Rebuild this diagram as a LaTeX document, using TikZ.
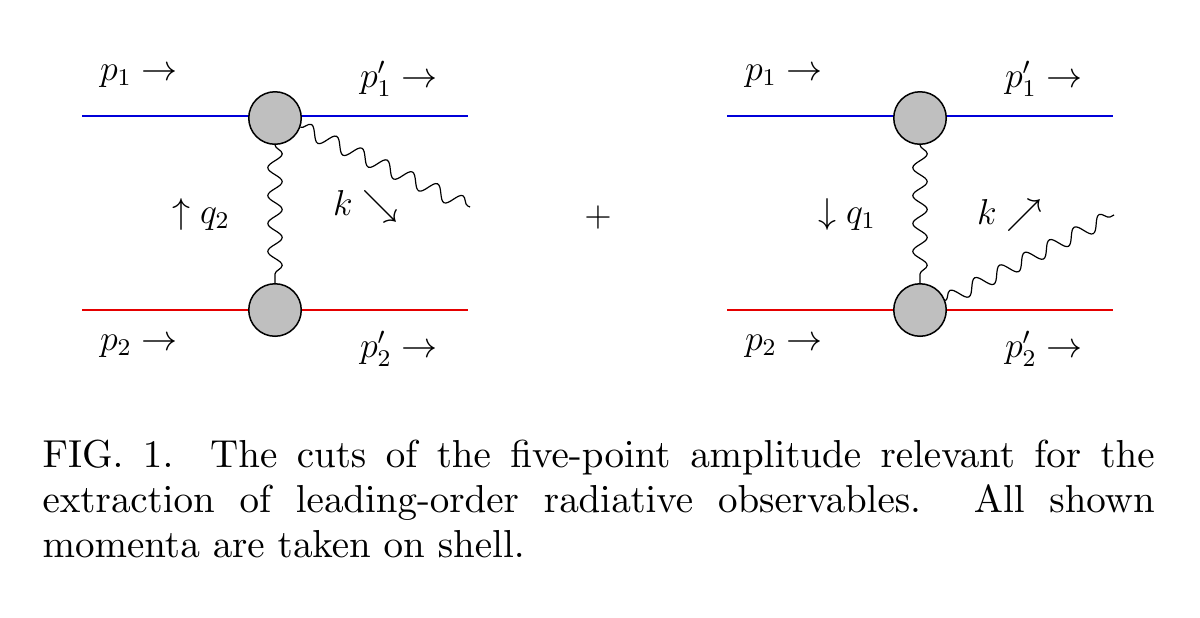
\documentclass[tikz,border=0pt]{standalone}
\usetikzlibrary{decorations.pathmorphing}
\font\capfont=cmr10 at 13pt
\begin{document}
\begin{tikzpicture}[x=0.3333pt,y=-0.3333pt,
  blob/.style={circle,draw,fill=gray!50,line width=0.5pt,minimum size=17.5pt,inner sep=0pt},
  photon/.style={decorate,decoration={snake,segment length=9.3pt,amplitude=2.4pt},line width=0.4pt},
  lbl/.style={font=\large}]
\useasboundingbox (0,0) rectangle (1200,617);
\foreach \dx/\n in {0/L,645/R}{
  \draw[blue!85!black,line width=0.45pt] (82+\dx,116) -- (468+\dx,116);
  \draw[red!90!black,line width=0.45pt] (82+\dx,310) -- (468+\dx,310);
  \node[blob] (t\n) at (275+\dx,118) {};
  \node[blob] (b\n) at (275+\dx,310) {};
  \draw[photon] (t\n.south) -- (b\n.north);
  \node[lbl] (p1\n) at (139+\dx,76) {$p_1\rightarrow$};
  \node[lbl] (pp1\n) at (399+\dx,79) {$p_1'\rightarrow$};
  \node[lbl] (p2\n) at (139+\dx,346) {$p_2\rightarrow$};
  \node[lbl] (pp2\n) at (399+\dx,349) {$p_2'\rightarrow$};
}
\coordinate (eL) at (470,207);
\coordinate (eR) at (1114,215);
\draw[photon] (tL.-20) -- (eL);
\draw[photon] (bR.20) -- (eR);
\node[lbl] (qL) at (201,214) {$\uparrow q_2$};
\node[lbl] (kL) at (366,206) {$k\searrow$};
\node[lbl] (qR) at (847,214) {$\downarrow q_1$};
\node[lbl] (kR) at (1010,215) {$k\nearrow$};
\node[lbl] (plus) at (598,217) {$+$};
\node[anchor=north west,text width=371pt,align=justify,inner sep=0pt,
  font=\capfont] (cap) at (42,440)
{\baselineskip=15pt\hyphenpenalty=10000 FIG. 1. The cuts of the five-point amplitude relevant for the\linebreak extraction of leading-order radiative observables. All shown\linebreak momenta are taken on shell.\par};
\end{tikzpicture}
\end{document}
